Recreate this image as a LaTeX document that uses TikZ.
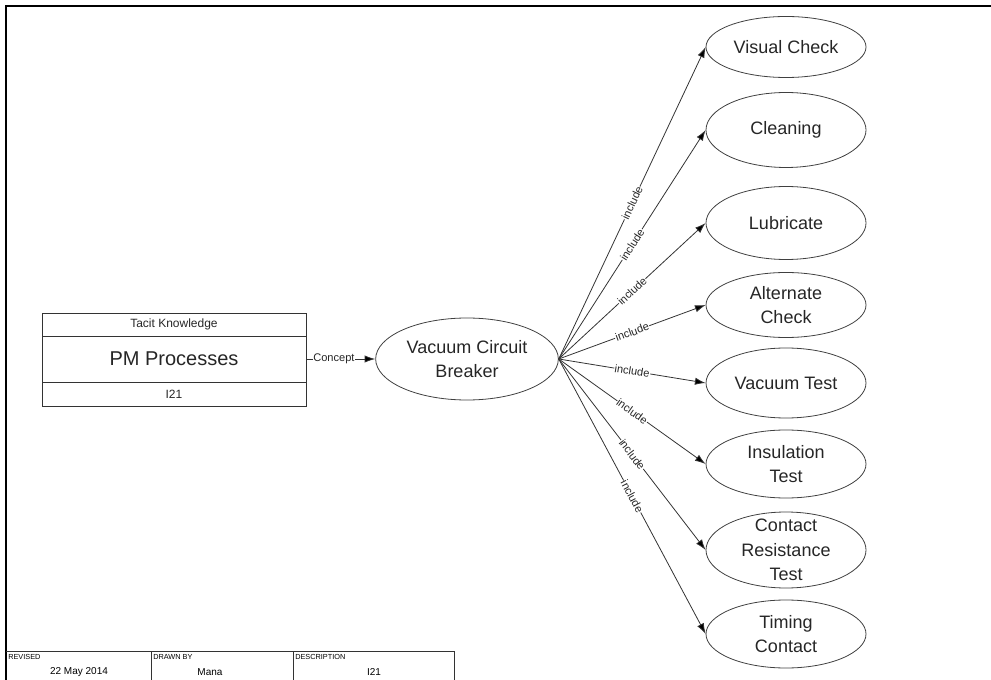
\documentclass[tikz,border=0pt]{standalone}
\usepackage{fontspec}
\setmainfont{Liberation Sans}
\usetikzlibrary{arrows.meta,shapes.geometric}

\tikzset{
  oval/.style={draw=black!75, ellipse, line width=0.6pt, minimum width=120pt, inner sep=0pt},
  ovaltext/.style={align=center, font=\fontsize{13.5}{18.5}\selectfont, text=black!85},
  rel/.style={draw=black!80, line width=0.6pt, -{Latex[length=8pt,width=5.5pt,fill=black]}},
  rellabel/.style={fill=white, inner sep=0.4pt, font=\fontsize{8.3}{10}\selectfont, text=black!85},
  cell/.style={draw=black!80, line width=0.6pt, minimum width=198pt, inner sep=0pt, text=black!85},
}

\begin{document}
\begin{tikzpicture}[x=0.75pt, y=-0.75pt]
    \useasboundingbox (0,0) rectangle (991,680);

    % Sheet frame
    \draw[line width=1.3pt] (6,680) -- (6,6) -- (991,6);

    % Process box
    \node[cell, minimum height=17.25pt, font=\fontsize{9}{11}\selectfont] (tacit) at (174,324.5) {Tacit Knowledge};
    \node[cell, minimum height=34.5pt, font=\fontsize{15}{18}\selectfont] (pm) at (174,359) {PM Processes};
    \node[cell, minimum height=18pt, font=\fontsize{9}{11}\selectfont] (pmid) at (174,394) {I21};

    % Concept
    \node[oval, minimum width=137pt, minimum height=61.5pt] (vcb) at (467,359) {};
    \node[ovaltext, text depth=0pt] (vcb-label) at (vcb) {Vacuum Circuit\\Breaker};
    \draw[rel] (pm) -- node[rellabel, pos=0.4] {Concept} (vcb);

    % Included tasks
    \foreach \y/\h/\nm/\txt in {47/45.75/vis/Visual Check,
                               130/56.25/cln/Cleaning,
                               223/54.75/lub/Lubricate,
                               305/48.75/alt/Alternate\\Check,
                               383/52.5/vac/Vacuum Test,
                               464/51/ins/Insulation\\Test,
                               550/57/crt/Contact\\Resistance\\Test,
                               634/51/tim/Timing\\Contact} {
        \node[oval, minimum height=\h pt] (\nm) at (786,\y) {};
        \node[ovaltext] (\nm-label) at (\nm) {\txt};
        \draw[rel] (vcb.east) -- node[rellabel, sloped] {include} (\nm.west);
    }

    % Title block
    \draw[draw=black!80, line width=0.6pt] (6,651) -- (454,651);
    \foreach \x in {151,293,454} {
        \draw[draw=black!80, line width=0.6pt] (\x,651) -- (\x,680);
    }
    \node[anchor=west, inner sep=0pt, font=\fontsize{5.5}{6}\selectfont] (rev) at (8,657) {REVISED};
    \node[anchor=west, inner sep=0pt, font=\fontsize{5.5}{6}\selectfont] (drw) at (153,657) {DRAWN BY};
    \node[anchor=west, inner sep=0pt, font=\fontsize{5.5}{6}\selectfont] (dsc) at (295,657) {DESCRIPTION};
    \node[font=\fontsize{7.5}{9}\selectfont] (revval) at (79,672) {22 May 2014};
    \node[font=\fontsize{7.5}{9}\selectfont] (drwval) at (210,672) {Mana};
    \node[font=\fontsize{7.5}{9}\selectfont] (dscval) at (374,672) {I21};
\end{tikzpicture}
\end{document}
